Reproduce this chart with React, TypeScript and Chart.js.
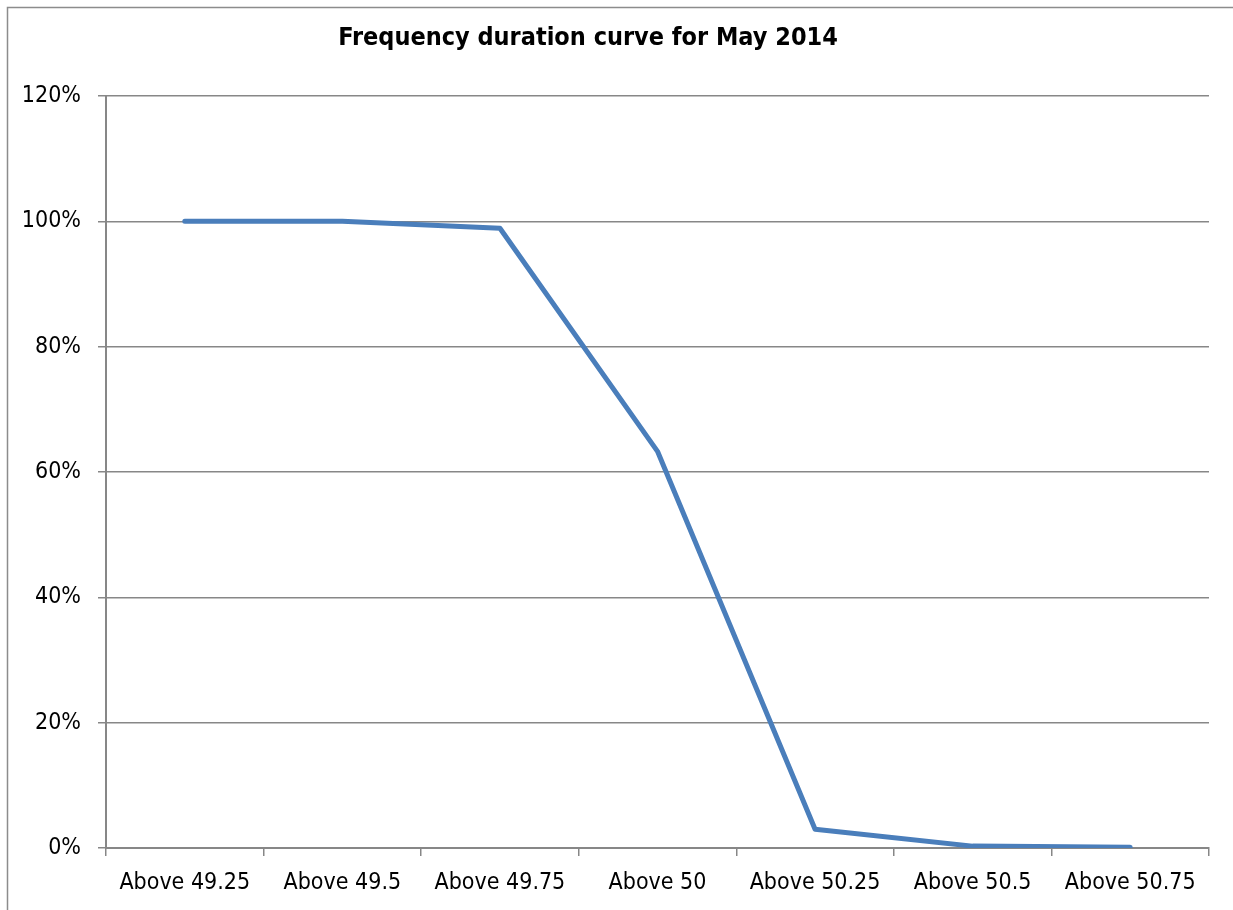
import React, { useEffect, useRef } from "react";
import { Chart, registerables } from "chart.js";

Chart.register(...registerables);

const TITLE = "Frequency duration curve for May 2014";
const categories = [
  "Above 49.25",
  "Above 49.5",
  "Above 49.75",
  "Above 50",
  "Above 50.25",
  "Above 50.5",
  "Above 50.75",
];
const durationPercent = [100, 100, 98.9, 63.3, 3.0, 0.3, 0.1];
const yTicks = [0, 20, 40, 60, 80, 100, 120];

const FONT = "'Liberation Sans Narrow', 'Arial Narrow', 'DejaVu Sans Condensed', Arial, sans-serif";
const GRID = "#878787";

const framePlugin = {
  id: "frameAndTitle",
  afterDraw(chart: any) {
    const ctx = chart.ctx as CanvasRenderingContext2D;
    ctx.save();
    ctx.strokeStyle = "#8c8c8c";
    ctx.lineWidth = 1.5;
    ctx.beginPath();
    ctx.moveTo(7.5, chart.height + 5);
    ctx.lineTo(7.5, 7.5);
    ctx.lineTo(chart.width + 5, 7.5);
    ctx.stroke();
    ctx.fillStyle = "#000";
    ctx.font = `bold 25px ${FONT}`;
    ctx.textAlign = "center";
    ctx.textBaseline = "middle";
    ctx.fillText(TITLE, 588, 38);
    ctx.restore();
  },
};

export default function App() {
  const ref = useRef<HTMLCanvasElement>(null);
  useEffect(() => {
    if (!ref.current) return;
    const chart = new Chart(ref.current, {
      type: "line",
      data: {
        labels: categories,
        datasets: [
          {
            data: durationPercent,
            borderColor: "#4a7ebb",
            borderWidth: 5,
            pointRadius: 0,
            tension: 0,
            borderCapStyle: "round",
            borderJoinStyle: "round",
          },
        ],
      },
      options: {
        animation: false,
        responsive: false,
        layout: { padding: { left: 0, right: 24, top: 96, bottom: 0 } },
        plugins: {
          legend: { display: false },
          title: { display: false },
          tooltip: { enabled: false },
        },
        scales: {
          x: {
            type: "category",
            offset: true,
            afterFit: (s: any) => {
              s.height = 62;
            },
            grid: {
              offset: true,
              drawOnChartArea: false,
              drawTicks: true,
              tickLength: 8,
              color: GRID,
              lineWidth: 1.5,
            },
            border: { color: GRID, width: 2 },
            ticks: {
              color: "#000",
              font: { family: FONT, size: 23 },
              padding: 13,
              maxRotation: 0,
              autoSkip: false,
            },
          },
          y: {
            min: 0,
            max: 120,
            afterFit: (s: any) => {
              s.width = 106;
            },
            afterBuildTicks: (s: any) => {
              s.ticks = yTicks.map((v) => ({ value: v }));
            },
            grid: {
              color: GRID,
              lineWidth: 1.5,
              tickLength: 8,
            },
            border: { color: GRID, width: 2 },
            ticks: {
              color: "#000",
              font: { family: FONT, size: 23 },
              padding: 17,
              callback: (v: any) => `${v}%`,
            },
          },
        },
      },
      plugins: [framePlugin],
    });
    return () => chart.destroy();
  }, []);
  return (
    <div style={{ position: "absolute", left: 0, top: 0, width: 1233, height: 910, background: "#fff" }}>
      <canvas ref={ref} width={1233} height={910} />
    </div>
  );
}
